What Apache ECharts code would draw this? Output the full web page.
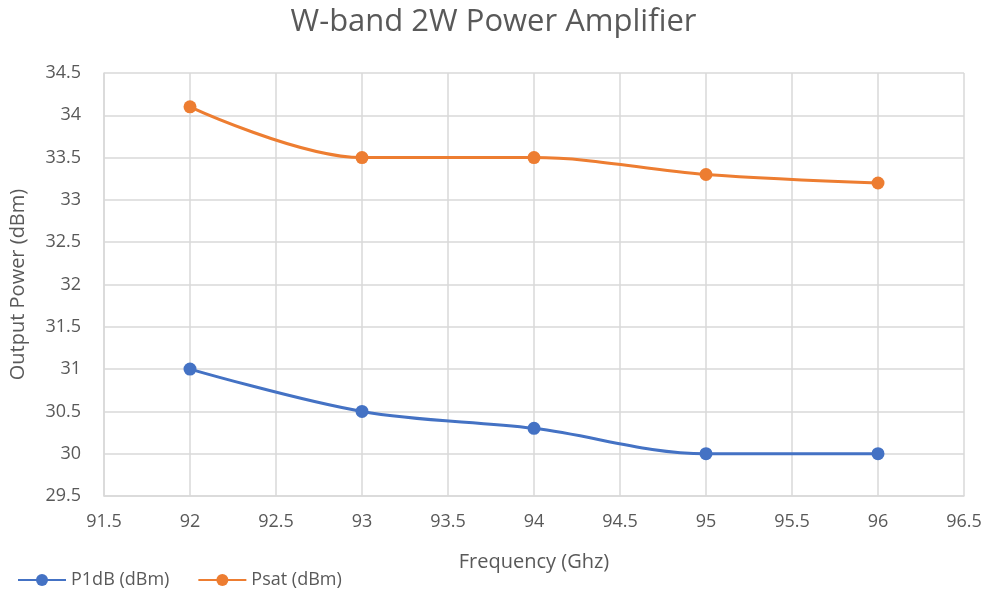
<!DOCTYPE html>
<html><head><meta charset="utf-8">
<script src="https://cdn.jsdelivr.net/npm/echarts@6/dist/echarts.min.js"></script>
<style>html,body{margin:0;padding:0;background:#fff}#c{width:987px;height:593px}</style>
</head><body><div id="c"></div>
<script>
const freqs = [92, 93, 94, 95, 96];
const p1dB = [31, 30.5, 30.3, 30, 30];
const psat = [34.1, 33.5, 33.5, 33.3, 33.2];
const seriesNames = ['P1dB (dBm)', 'Psat (dBm)'];
const chart = echarts.init(document.getElementById('c'));
const font = '"Open Sans", sans-serif';
const txt = '#595959';
chart.setOption({
  animation: false,
  title: { text: 'W-band 2W Power Amplifier', left: 'center', top: 2,
    textStyle: { fontFamily: font, fontSize: 31, fontWeight: 'normal', color: txt } },
  legend: { left: 12, bottom: -1, itemWidth: 48, itemHeight: 15, itemGap: 28,
    textStyle: { fontFamily: font, fontSize: 18, color: txt },
    data: seriesNames },
  grid: { left: 102, right: 23, top: 73, bottom: 97 },
  xAxis: { type: 'value', min: 91.5, max: 96.5, interval: 0.5,
    name: 'Frequency (Ghz)', nameLocation: 'middle', nameGap: 56,
    nameTextStyle: { fontFamily: font, fontSize: 20, color: txt },
    axisLine: { lineStyle: { color: '#d9d9d9', width: 1.5 } },
    axisTick: { show: false },
    axisLabel: { fontFamily: font, fontSize: 18, color: txt, margin: 17 },
    splitLine: { show: true, lineStyle: { color: '#d9d9d9', width: 1.5 } } },
  yAxis: { type: 'value', min: 29.5, max: 34.5, interval: 0.5,
    name: 'Output Power (dBm)', nameLocation: 'middle', nameGap: 76,
    nameTextStyle: { fontFamily: font, fontSize: 20, color: txt },
    axisLine: { show: true, lineStyle: { color: '#d9d9d9', width: 1.5 } },
    axisTick: { show: false },
    axisLabel: { fontFamily: font, fontSize: 18, color: txt, margin: 23 },
    splitLine: { show: true, lineStyle: { color: '#d9d9d9', width: 1.5 } } },
  series: [
    { name: seriesNames[0], type: 'line', smooth: 0.35, symbol: 'circle', symbolSize: 13,
      data: freqs.map((f, i) => [f, p1dB[i]]),
      itemStyle: { color: '#4472c4' }, lineStyle: { color: '#4472c4', width: 3 } },
    { name: seriesNames[1], type: 'line', smooth: 0.35, symbol: 'circle', symbolSize: 13,
      data: freqs.map((f, i) => [f, psat[i]]),
      itemStyle: { color: '#ed7d31' }, lineStyle: { color: '#ed7d31', width: 3 } }
  ]
});
</script></body></html>
